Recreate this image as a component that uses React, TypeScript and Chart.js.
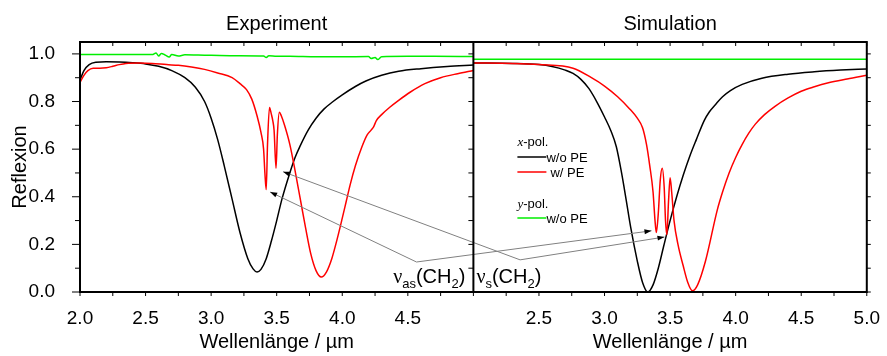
import React, { useEffect, useRef } from 'react';
import { Chart, registerables } from 'chart.js';

Chart.register(...registerables);

// ---------------- data (wavelength in µm, reflectance) ----------------
const EXP_BLACK_X = [2.0, 2.03, 2.07, 2.12, 2.2, 2.3, 2.4, 2.5, 2.6, 2.7, 2.8, 2.88, 2.95, 3.0, 3.05, 3.1, 3.16, 3.22, 3.28, 3.32, 3.35, 3.38, 3.42, 3.46, 3.5, 3.54, 3.6, 3.64, 3.68, 3.74, 3.8, 3.86, 3.93, 4.0, 4.1, 4.18, 4.3, 4.43, 4.6, 4.8, 5.0];
const EXP_BLACK_Y = [0.89, 0.93, 0.955, 0.965, 0.967, 0.966, 0.963, 0.958, 0.948, 0.93, 0.9, 0.86, 0.8, 0.73, 0.64, 0.53, 0.39, 0.25, 0.14, 0.097, 0.084, 0.095, 0.14, 0.215, 0.3, 0.39, 0.5, 0.565, 0.615, 0.68, 0.73, 0.768, 0.8, 0.828, 0.863, 0.886, 0.91, 0.927, 0.938, 0.947, 0.953];

const EXP_RED_X = [2.0, 2.03, 2.06, 2.1, 2.15, 2.2, 2.25, 2.3, 2.35, 2.45, 2.55, 2.66, 2.75, 2.85, 2.95, 3.05, 3.16, 3.22, 3.27, 3.31, 3.35, 3.38, 3.4, 3.41, 3.42, 3.43, 3.445, 3.46, 3.47, 3.48, 3.495, 3.505, 3.52, 3.535, 3.56, 3.6, 3.64, 3.68, 3.72, 3.76, 3.8, 3.84, 3.88, 3.92, 3.96, 4.0, 4.03, 4.06, 4.1, 4.15, 4.19, 4.22, 4.24, 4.26, 4.3, 4.36, 4.43, 4.52, 4.63, 4.75, 4.88, 5.0];
const EXP_RED_Y = [0.88, 0.91, 0.93, 0.94, 0.94, 0.942, 0.948, 0.955, 0.96, 0.962, 0.96, 0.955, 0.952, 0.945, 0.935, 0.92, 0.9, 0.875, 0.85, 0.81, 0.74, 0.67, 0.6, 0.5, 0.43, 0.62, 0.775, 0.745, 0.72, 0.68, 0.52, 0.66, 0.755, 0.74, 0.7, 0.62, 0.51, 0.39, 0.27, 0.16, 0.09, 0.063, 0.085, 0.14, 0.22, 0.31, 0.38, 0.45, 0.53, 0.61, 0.66, 0.68, 0.695, 0.72, 0.745, 0.775, 0.805, 0.84, 0.875, 0.9, 0.917, 0.93];

const EXP_GREEN_X = [2.0, 2.2, 2.4, 2.55, 2.58, 2.6, 2.62, 2.65, 2.68, 2.7, 2.75, 2.8, 2.9, 3.0, 3.2, 3.4, 3.42, 3.44, 3.5, 3.6, 3.8, 4.0, 4.2, 4.22, 4.25, 4.27, 4.3, 4.5, 4.7, 5.0];
const EXP_GREEN_Y = [0.997, 0.998, 0.998, 0.997, 1.004, 0.991, 1.002, 0.995, 0.987, 0.997, 0.991, 0.996, 0.995, 0.994, 0.992, 0.991, 0.985, 0.992, 0.99, 0.99, 0.988, 0.988, 0.989, 0.981, 0.985, 0.976, 0.988, 0.99, 0.99, 0.989];

const SIM_BLACK_X = [2.0, 2.3, 2.5, 2.6, 2.7, 2.76, 2.82, 2.88, 2.94, 3.0, 3.05, 3.09, 3.13, 3.165, 3.2, 3.25, 3.29, 3.33, 3.37, 3.41, 3.45, 3.5, 3.55, 3.6, 3.65, 3.7, 3.76, 3.8, 3.85, 3.9, 3.96, 4.05, 4.2, 4.4, 4.6, 4.8, 5.0];
const SIM_BLACK_Y = [0.962, 0.96, 0.955, 0.947, 0.932, 0.918, 0.893, 0.855, 0.8, 0.735, 0.675, 0.61, 0.5, 0.387, 0.27, 0.13, 0.04, 0.0, 0.03, 0.1, 0.19, 0.3, 0.4, 0.49, 0.57, 0.64, 0.72, 0.757, 0.79, 0.82, 0.846, 0.872, 0.898, 0.915, 0.925, 0.932, 0.937];

const SIM_RED_X = [2.0, 2.3, 2.5, 2.76, 2.9, 3.0, 3.1, 3.19, 3.25, 3.29, 3.32, 3.345, 3.37, 3.385, 3.395, 3.41, 3.425, 3.44, 3.455, 3.465, 3.475, 3.488, 3.5, 3.512, 3.53, 3.56, 3.6, 3.635, 3.67, 3.71, 3.77, 3.86, 3.9, 3.95, 4.0, 4.05, 4.1, 4.15, 4.22, 4.3, 4.4, 4.5, 4.6, 4.7, 4.85, 5.0];
const SIM_RED_Y = [0.962, 0.96, 0.955, 0.94, 0.9, 0.865, 0.82, 0.77, 0.73, 0.69, 0.62, 0.53, 0.42, 0.3, 0.25, 0.33, 0.47, 0.52, 0.44, 0.3, 0.24, 0.38, 0.48, 0.42, 0.3, 0.2, 0.11, 0.04, 0.005, 0.03, 0.13, 0.345, 0.42, 0.5, 0.565, 0.62, 0.667, 0.705, 0.745, 0.78, 0.815, 0.843, 0.862, 0.878, 0.895, 0.91];

const SIM_GREEN_X = [2.0, 5.0];
const SIM_GREEN_Y = [0.978, 0.978];

// tick labels
const EXP_TICKS = [2.0, 2.5, 3.0, 3.5, 4.0, 4.5];
const SIM_TICKS = [2.5, 3.0, 3.5, 4.0, 4.5, 5.0];
const Y_TICKS = [0.0, 0.2, 0.4, 0.6, 0.8, 1.0];

// panel layout on one shared axis: simulation is shifted by the panel width
const SIM_SHIFT = 3;
const DIVIDER = 5;

// annotation anchors in data units: [x, y, panel]
const LABEL_AS_VERTEX = [4.566, 0.126, 'exp'];
const LABEL_S_VERTEX = [2.356, 0.135, 'sim'];
const TIP_EXP_AS = [3.45, 0.42, 'exp'];
const TIP_EXP_S = [3.549, 0.505, 'exp'];
const TIP_SIM_AS = [3.358, 0.257, 'sim'];
const TIP_SIM_S = [3.457, 0.231, 'sim'];

const SANS = '"Liberation Sans", Arial, sans-serif';
const SERIF = '"Liberation Serif", "Times New Roman", serif';
const RED = '#ff0000';
const GREEN = '#00ee00';

const decorPlugin = {
  id: 'decor',
  afterDraw(chart: any) {
    const { ctx, chartArea: a, scales } = chart;
    const xs = scales.x;
    const ys = scales.y;
    const px = (v: number) => xs.getPixelForValue(v);
    const py = (v: number) => ys.getPixelForValue(v);
    const ptOf = (p: any) => [px(p[2] === 'sim' ? p[0] + SIM_SHIFT : p[0]), py(p[1])];
    const line = (x1: number, y1: number, x2: number, y2: number) => {
      ctx.beginPath();
      ctx.moveTo(x1, y1);
      ctx.lineTo(x2, y2);
      ctx.stroke();
    };
    ctx.save();
    // annotation lines & arrows
    const arrow = (from: any, to: any) => {
      const [x1, y1] = ptOf(from);
      const [x2, y2] = ptOf(to);
      ctx.strokeStyle = '#808080';
      ctx.lineWidth = 1;
      line(x1, y1, x2, y2);
      const ang = Math.atan2(y2 - y1, x2 - x1);
      const L = 7, W = 2.5;
      const c = Math.cos(ang), s = Math.sin(ang);
      ctx.fillStyle = '#000';
      ctx.beginPath();
      ctx.moveTo(x2, y2);
      ctx.lineTo(x2 - L * c + W * s, y2 - L * s - W * c);
      ctx.lineTo(x2 - L * c - W * s, y2 - L * s + W * c);
      ctx.closePath();
      ctx.fill();
    };
    arrow(LABEL_AS_VERTEX, TIP_EXP_AS);
    arrow(LABEL_AS_VERTEX, TIP_SIM_AS);
    arrow(LABEL_S_VERTEX, TIP_EXP_S);
    arrow(LABEL_S_VERTEX, TIP_SIM_S);

    // frame
    ctx.strokeStyle = '#000';
    ctx.lineWidth = 2;
    ctx.strokeRect(a.left, a.top, a.right - a.left, a.bottom - a.top);
    const dx = px(DIVIDER);
    line(dx, a.top, dx, a.bottom);

    // ticks
    ctx.lineWidth = 1;
    for (let i = 0; i <= 10; i++) {
      const y = py(i / 10);
      const major = i % 2 === 0;
      line(a.left - (major ? 8 : 5), y, a.left, y);
      line(a.right, y, a.right + 4, y);
      line(dx - 5, y, dx, y);
    }
    for (let i = 0; i <= 24; i++) {
      const x = px(2 + i * 0.25);
      line(x, a.bottom, x, a.bottom + 4);
      line(x, a.top, x, a.top + 4);
    }

    // titles
    ctx.fillStyle = '#000';
    ctx.textAlign = 'center';
    ctx.textBaseline = 'alphabetic';
    ctx.font = `20px ${SANS}`;
    const cExp = (a.left + dx) / 2;
    const cSim = (dx + a.right) / 2;
    ctx.fillText('Experiment', cExp, 30);
    ctx.fillText('Simulation', cSim, 30);
    ctx.fillText('Wellenlänge / µm', cExp, 348);
    ctx.fillText('Wellenlänge / µm', cSim, 348);
    ctx.save();
    ctx.translate(26, (a.top + a.bottom) / 2);
    ctx.rotate(-Math.PI / 2);
    ctx.fillText('Reflexion', 0, 0);
    ctx.restore();

    // compound labels
    const drawParts = (parts: any[], x: number, base: number, alignRight: boolean) => {
      let total = 0;
      parts.forEach((p) => { ctx.font = p.font; total += ctx.measureText(p.t).width; });
      let cx = alignRight ? x - total : x;
      ctx.textAlign = 'left';
      parts.forEach((p) => {
        ctx.font = p.font;
        ctx.fillText(p.t, cx, base + (p.dy || 0));
        cx += ctx.measureText(p.t).width;
      });
    };
    const big = `20px ${SANS}`;
    const sub = `13px ${SANS}`;
    const nu = `20px ${SERIF}`;
    const base = py(0.037);
    drawParts([
      { t: 'ν', font: nu }, { t: 'as', font: sub, dy: 5 }, { t: '(CH', font: big },
      { t: '2', font: sub, dy: 5 }, { t: ')', font: big },
    ], dx - 8, base, true);
    drawParts([
      { t: 'ν', font: nu }, { t: 's', font: sub, dy: 5 }, { t: '(CH', font: big },
      { t: '2', font: sub, dy: 5 }, { t: ')', font: big },
    ], dx + 3, base, false);

    // legend
    const lx = dx + 44;
    const small = `13px ${SANS}`;
    const ital = `italic 13px ${SERIF}`;
    drawParts([{ t: 'x', font: ital }, { t: '-pol.', font: small }], lx, a.top + 104, false);
    drawParts([{ t: 'y', font: ital }, { t: '-pol.', font: small }], lx, a.top + 166, false);
    const rows = [
      { y: a.top + 115, c: '#000', t: 'w/o PE', off: 29 },
      { y: a.top + 130, c: RED, t: 'w/ PE', off: 33 },
      { y: a.top + 176, c: GREEN, t: 'w/o PE', off: 29 },
    ];
    rows.forEach((r) => {
      ctx.strokeStyle = r.c;
      ctx.lineWidth = 1.5;
      line(lx, r.y, lx + 29, r.y);
      ctx.fillStyle = '#000';
      drawParts([{ t: r.t, font: small }], lx + r.off, r.y + 5, false);
    });
    ctx.restore();
  },
};

export default function App() {
  const ref = useRef<HTMLCanvasElement>(null);
  useEffect(() => {
    document.body.style.margin = '0';
    const pts = (xs: number[], ys: number[], off: number) => xs.map((x, i) => ({ x: x + off, y: ys[i] }));
    const ds = (label: string, xs: number[], ys: number[], color: string, off: number) => ({
      label,
      data: pts(xs, ys, off),
      borderColor: color,
      borderWidth: 1.5,
      pointRadius: 0,
      fill: false,
      cubicInterpolationMode: 'monotone' as const,
    });
    const chart = new Chart(ref.current as HTMLCanvasElement, {
      type: 'line',
      data: {
        datasets: [
          ds('Exp y-pol. w/o PE', EXP_GREEN_X, EXP_GREEN_Y, GREEN, 0),
          ds('Exp x-pol. w/ PE', EXP_RED_X, EXP_RED_Y, RED, 0),
          ds('Exp x-pol. w/o PE', EXP_BLACK_X, EXP_BLACK_Y, '#000', 0),
          ds('Sim y-pol. w/o PE', SIM_GREEN_X, SIM_GREEN_Y, GREEN, SIM_SHIFT),
          ds('Sim x-pol. w/ PE', SIM_RED_X, SIM_RED_Y, RED, SIM_SHIFT),
          ds('Sim x-pol. w/o PE', SIM_BLACK_X, SIM_BLACK_Y, '#000', SIM_SHIFT),
        ],
      },
      options: {
        responsive: false,
        animation: false,
        devicePixelRatio: 1,
        layout: { padding: { left: 0, right: 17, top: 42, bottom: 0 } },
        plugins: { legend: { display: false }, tooltip: { enabled: false }, title: { display: false } },
        scales: {
          x: {
            type: 'linear',
            min: 2,
            max: 8,
            grid: { display: false },
            border: { display: false },
            afterBuildTicks: (s: any) => {
              s.ticks = [...EXP_TICKS, ...SIM_TICKS.map((v) => v + SIM_SHIFT)].map((v) => ({ value: v }));
            },
            afterFit: (s: any) => { s.height = 64; },
            ticks: {
              autoSkip: false,
              maxRotation: 0,
              padding: 7,
              color: '#000',
              font: { family: SANS, size: 19 },
              callback: (v: any) => {
                const n = Number(v);
                return (n > DIVIDER ? n - SIM_SHIFT : n).toFixed(1);
              },
            },
          },
          y: {
            min: 0,
            max: 1.05,
            grid: { display: false },
            border: { display: false },
            afterBuildTicks: (s: any) => { s.ticks = Y_TICKS.map((v) => ({ value: v })); },
            afterFit: (s: any) => { s.width = 80; },
            ticks: {
              padding: 17,
              color: '#000',
              font: { family: SANS, size: 19 },
              callback: (v: any) => Number(v).toFixed(1),
            },
          },
        },
      } as any,
      plugins: [decorPlugin],
    });
    return () => chart.destroy();
  }, []);
  return (
    <div style={{ position: 'absolute', left: 0, top: 0, width: 887, height: 356, background: '#fff' }}>
      <canvas ref={ref} width={887} height={356} style={{ display: 'block' }} />
    </div>
  );
}
